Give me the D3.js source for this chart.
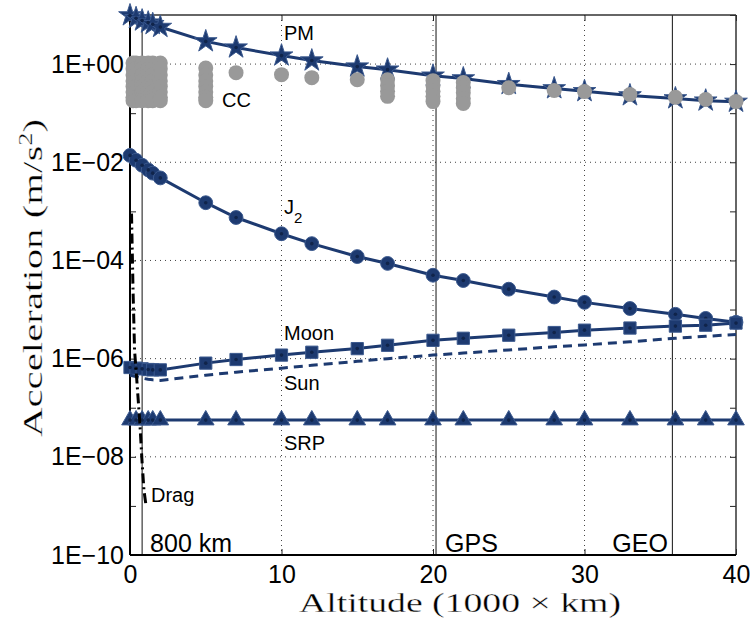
<!DOCTYPE html>
<html><head><meta charset="utf-8">
<script src="https://cdn.jsdelivr.net/npm/d3@7"></script>
<style>body{margin:0;background:#fff}svg{display:block}</style>
</head><body>
<svg id="c" width="750" height="622"></svg>
<script>
// ---- data ----
const altitudes = [0, 0.4, 0.8, 1.2, 1.5, 2, 5, 7, 10, 12, 15, 17, 20, 22, 25, 28, 30, 33, 36, 38, 40];
const pmValues  = [9.8, 8.6, 7.7, 7.0, 6.5, 5.7, 2.9, 2.17, 1.49, 1.18, 0.89, 0.77, 0.58, 0.51, 0.39, 0.32, 0.28, 0.23, 0.20, 0.18, 0.17];
const j2Values  = [1.38e-2, 1.1e-2, 8.7e-3, 7.0e-3, 6.0e-3, 4.8e-3, 1.5e-3, 7.5e-4, 3.5e-4, 2.2e-4, 1.2e-4, 8.7e-5, 5.0e-5, 3.9e-5, 2.6e-5, 1.8e-5, 1.4e-5, 1.05e-5, 8.0e-6, 6.6e-6, 5.5e-6];
const moonValues= [6.6e-7, 6.4e-7, 6.2e-7, 6.0e-7, 5.9e-7, 5.9e-7, 8.1e-7, 9.6e-7, 1.18e-6, 1.35e-6, 1.6e-6, 1.87e-6, 2.36e-6, 2.6e-6, 3.0e-6, 3.4e-6, 3.8e-6, 4.2e-6, 4.6e-6, 4.8e-6, 5.3e-6];
const sunValues = [4.6e-7, 4.3e-7, 4.0e-7, 3.8e-7, 3.7e-7, 3.6e-7, 4.6e-7, 5.3e-7, 6.4e-7, 7.3e-7, 8.8e-7, 1.0e-6, 1.18e-6, 1.3e-6, 1.5e-6, 1.75e-6, 1.9e-6, 2.2e-6, 2.6e-6, 2.85e-6, 3.1e-6];
const srpValues = [5.6e-8, 5.6e-8, 5.6e-8, 5.6e-8, 5.6e-8, 5.6e-8, 5.6e-8, 5.6e-8, 5.6e-8, 5.6e-8, 5.6e-8, 5.6e-8, 5.6e-8, 5.6e-8, 5.6e-8, 5.6e-8, 5.6e-8, 5.6e-8, 5.6e-8, 5.6e-8, 5.6e-8];
const dragAlt   = [0.1, 0.2, 0.3, 0.45, 0.65, 0.79, 0.92, 1.06];
const dragValues= [9e-4, 2.5e-5, 1.5e-6, 3.6e-7, 4.9e-8, 8.5e-9, 2.1e-9, 1.0e-9];
const ccAlt     = [0.2, 0.4, 0.8, 1.2, 1.5, 2, 5, 7, 10, 12, 15, 17, 20, 22, 25, 28, 30, 33, 36, 38, 40];
const ccCluster = [1.05, 0.8, 0.6, 0.45, 0.35, 0.27, 0.21, 0.18];
const ccValues  = [ccCluster, ccCluster, ccCluster, ccCluster, ccCluster, ccCluster,
  [0.83, 0.6, 0.45, 0.35, 0.27, 0.21, 0.18], [0.67], [0.61], [0.53], [0.48],
  [0.48, 0.36, 0.28, 0.22], [0.46, 0.36, 0.28, 0.22, 0.172], [0.42, 0.33, 0.26, 0.2, 0.157],
  [0.33], [0.29], [0.275], [0.24], [0.21], [0.19], [0.172]];
const refAlt    = [0.8, 20.2, 35.8];
const refLabels = ["800 km", "GPS", "GEO"];
const xTicks    = [0, 10, 20, 30, 40];
const yTickLabels = ["1E+00", "1E\u221202", "1E\u221204", "1E\u221206", "1E\u221208", "1E\u221210"];
const yTickValues = [1, 1e-2, 1e-4, 1e-6, 1e-8, 1e-10];
const yMinorValues = [1e1, 1e0, 1e-1, 1e-2, 1e-3, 1e-4, 1e-5, 1e-6, 1e-7, 1e-8, 1e-9, 1e-10];

// ---- layout ----
const L = 130, R = 736, T = 15, B = 555;
const navy = "#1d3a70", gray = "#999999";
const svg = d3.select("#c");
const x = d3.scaleLinear().domain([0, 40]).range([L, R]);
const y = d3.scaleLog().domain([1e-10, 1e1]).range([B, T]);
const sans = "'Liberation Sans', Arial, Helvetica, sans-serif";
const serif = "'Liberation Serif', 'Times New Roman', serif";

// grid
const g = svg.append("g");
g.selectAll(".gx").data([10, 20, 30]).join("line")
  .attr("x1", d => x(d)).attr("x2", d => x(d)).attr("y1", T).attr("y2", B)
  .attr("stroke", "#444").attr("stroke-width", 1).attr("stroke-dasharray", "1,4");
g.selectAll(".gy").data([1, 1e-2, 1e-4, 1e-6, 1e-8]).join("line")
  .attr("x1", L).attr("x2", R).attr("y1", d => y(d)).attr("y2", d => y(d))
  .attr("stroke", "#444").attr("stroke-width", 1).attr("stroke-dasharray", "1,4");

// reference verticals
g.selectAll(".ref").data(refAlt).join("line")
  .attr("x1", d => x(d)).attr("x2", d => x(d)).attr("y1", T).attr("y2", B)
  .attr("stroke", "#111").attr("stroke-width", 1);

// axes
const axB = d3.axisBottom(x).tickValues(xTicks).tickSize(-6).tickPadding(10).tickFormat(d3.format("d"));
const axT = d3.axisTop(x).tickValues(xTicks).tickSize(-6).tickFormat("");
const axL = d3.axisLeft(y).tickValues(yMinorValues).tickSize(-6).tickPadding(6)
  .tickFormat(d => { const i = yTickValues.indexOf(d); return i >= 0 ? yTickLabels[i] : ""; });
const axR = d3.axisRight(y).tickValues(yMinorValues).tickSize(-6).tickFormat("");
function style(sel) {
  sel.select(".domain").remove();
  sel.selectAll("line").attr("stroke", "#222").attr("stroke-width", 1);
  sel.selectAll("text").attr("fill", "#000").style("font-family", sans).style("font-size", "25px");
}
svg.append("g").attr("transform", `translate(0,${B})`).call(axB).call(style);
svg.append("g").attr("transform", `translate(0,${T})`).call(axT).call(style);
svg.append("g").attr("transform", `translate(${L},0)`).call(axL).call(style);
svg.append("g").attr("transform", `translate(${R},0)`).call(axR).call(style);
// frame
svg.append("line").attr("x1", L).attr("x2", R).attr("y1", T).attr("y2", T).attr("stroke", "#333").attr("stroke-width", 1.5);
svg.append("line").attr("x1", R).attr("x2", R).attr("y1", T).attr("y2", B).attr("stroke", "#333").attr("stroke-width", 1.5);
svg.append("line").attr("x1", L).attr("x2", R).attr("y1", B).attr("y2", B).attr("stroke", "#000").attr("stroke-width", 2);
svg.append("line").attr("x1", L).attr("x2", L).attr("y1", T).attr("y2", B).attr("stroke", "#000").attr("stroke-width", 2);

// series helpers
const line = d3.line().x(d => x(d[0])).y(d => y(d[1]));
function pairs(xs, vs) { return xs.map((a, i) => [a, vs[i]]); }
function drawLine(vals, xs, dash, color) {
  svg.append("path").datum(pairs(xs, vals)).attr("d", line)
    .attr("fill", "none").attr("stroke", color || navy).attr("stroke-width", 3)
    .attr("stroke-dasharray", dash || null);
}
function drawMarkers(vals, type, size) {
  const sym = d3.symbol().type(type).size(size);
  svg.append("g").selectAll("path").data(pairs(altitudes, vals)).join("path")
    .attr("transform", d => `translate(${x(d[0])},${y(d[1])})`)
    .attr("d", sym).attr("fill", navy).attr("stroke", "#3c5a8f").attr("stroke-width", 1);
  svg.append("g").selectAll("circle").data(pairs(altitudes, vals)).join("circle")
    .attr("cx", d => x(d[0])).attr("cy", d => y(d[1])).attr("r", 1.8).attr("fill", "#10244a");
}

// PM
drawLine(pmValues, altitudes);
drawMarkers(pmValues, d3.symbolStar, 160);
// CC
const ccPts = [];
ccAlt.forEach((a, i) => ccValues[i].forEach(v => ccPts.push([a, v])));
svg.append("g").selectAll("circle").data(ccPts).join("circle")
  .attr("cx", d => x(d[0])).attr("cy", d => y(d[1])).attr("r", 7.5).attr("fill", gray);
// J2
drawLine(j2Values, altitudes);
drawMarkers(j2Values, d3.symbolCircle, 150);
// Moon
drawLine(moonValues, altitudes);
drawMarkers(moonValues, d3.symbolSquare, 150);
// Sun
drawLine(sunValues, altitudes, "9,6");
// SRP
drawLine(srpValues, altitudes);
drawMarkers(srpValues, d3.symbolTriangle, 120);
// Drag
drawLine(dragValues, dragAlt, "10,4,2,4", "#000");

// labels
function lab(t, px, py, fs) {
  return svg.append("text").attr("x", px).attr("y", py).text(t)
    .style("font-family", sans).style("font-size", (fs || 20) + "px").attr("fill", "#000");
}
lab("PM", 284, 40);
lab("CC", 222, 107);
const j = lab("J", 284, 214);
j.append("tspan").attr("dy", 9).style("font-size", "15px").text("2");
lab("Moon", 284, 340);
lab("Sun", 284, 390);
lab("SRP", 284, 450);
lab("Drag", 151, 502);
svg.append("g").selectAll("text").data(refLabels).join("text")
  .attr("x", (d, i) => x(refAlt[i]) + [8, 9, -60][i]).attr("y", 552).text(d => d)
  .style("font-family", sans).style("font-size", "25px");

// axis titles (serif)
svg.append("text").attr("x", 460).attr("y", 612).attr("text-anchor", "middle")
  .attr("textLength", 322).attr("lengthAdjust", "spacingAndGlyphs")
  .attr("fill", "#000").attr("stroke", "#fff").attr("stroke-width", 0.3)
  .style("font-family", serif).style("font-size", "28px").text("Altitude (1000 \u00d7 km)");
const yt = svg.append("text").attr("transform", `translate(42,278) rotate(-90)`)
  .attr("text-anchor", "middle").attr("textLength", 318).attr("lengthAdjust", "spacingAndGlyphs")
  .attr("fill", "#000").attr("stroke", "#fff").attr("stroke-width", 0.3)
  .style("font-family", serif).style("font-size", "28px");
yt.append("tspan").text("Acceleration (m/s");
yt.append("tspan").attr("dy", -10).style("font-size", "18px").text("2");
yt.append("tspan").attr("dy", 10).text(")");
</script>
</body></html>
